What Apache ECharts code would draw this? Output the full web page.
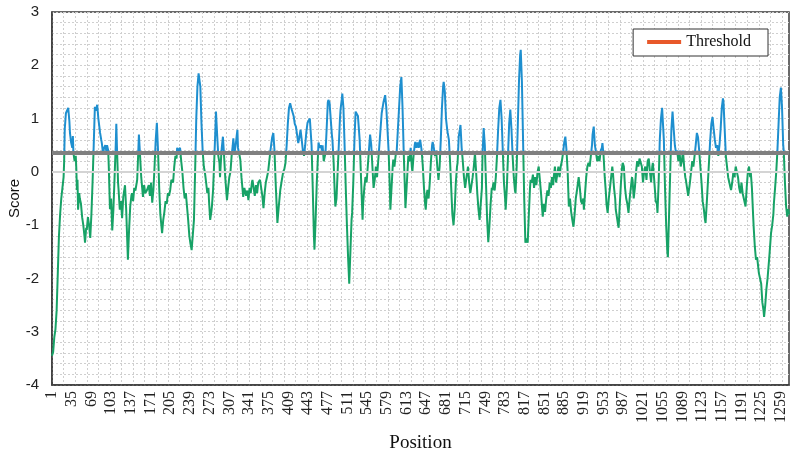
<!DOCTYPE html>
<html>
<head>
<meta charset="utf-8">
<script src="https://cdn.jsdelivr.net/npm/echarts@6/dist/echarts.min.js"></script>
<style>
html,body{margin:0;padding:0;background:#fff;}
#chart{width:793px;height:460px;}
</style>
</head>
<body>
<div id="chart"></div>
<script>
// ---- data ----
var positionCount = 1273;
var categories = [];
for (var c = 1; c <= positionCount; c++) categories.push(String(c));

var threshold = 0.35;

var positions = [1,3,5,7,9,11,13,15,17,19,21,22,23,25,27,29,31,32,34,36,37,38,40,42,43,44,45,46,48,49,51,53,55,57,58,60,61,63,65,67,69,71,73,75,77,79,81,84,86,87,89,91,93,95,96,98,99,101,103,105,107,109,111,112,113,115,116,118,120,122,124,127,129,132,134,136,138,139,141,143,145,148,150,151,153,155,158,160,162,165,168,170,172,174,176,178,180,182,184,186,188,191,193,195,197,199,201,203,205,207,210,212,214,216,217,219,222,224,226,228,230,232,234,236,238,240,242,244,246,248,250,252,254,255,257,259,261,263,265,267,269,271,272,274,276,277,279,281,283,284,286,288,290,291,293,294,296,298,300,302,303,305,307,309,311,313,314,316,318,320,321,322,324,326,328,330,331,333,334,336,338,340,342,344,346,347,349,351,353,355,357,360,362,364,366,368,370,372,374,376,378,381,383,385,387,389,390,392,395,397,400,402,404,406,408,410,412,414,416,418,420,422,424,426,428,430,432,434,436,438,440,442,444,446,447,449,451,453,454,456,458,460,461,463,465,467,468,470,472,473,475,477,478,480,482,484,485,487,489,490,492,494,496,498,499,501,502,504,506,508,510,512,514,516,518,519,521,523,525,527,529,530,532,534,536,537,538,540,542,544,546,548,550,552,554,556,558,560,562,564,566,568,570,571,573,576,578,580,582,584,585,587,589,590,592,594,596,598,600,602,604,606,608,610,611,613,615,616,618,620,622,623,625,627,628,630,632,634,636,637,639,641,643,645,646,648,649,651,653,655,657,658,660,662,664,666,668,670,672,674,676,677,679,681,683,684,686,688,690,692,694,696,698,700,701,703,705,706,708,710,712,714,715,717,719,721,723,725,727,729,731,733,735,737,739,741,743,744,746,748,750,752,754,756,758,760,761,763,765,767,769,771,773,775,777,779,781,783,784,786,788,790,792,794,796,798,800,801,803,805,807,809,810,812,814,816,818,820,822,824,826,827,829,831,833,835,837,839,841,843,845,847,848,850,852,854,856,858,860,862,864,866,867,869,871,873,875,877,879,881,883,885,887,889,891,893,895,897,899,901,903,905,907,908,910,912,914,916,918,919,921,923,925,927,929,931,933,934,936,938,940,942,944,946,948,950,951,953,955,957,958,960,962,964,966,968,969,971,973,974,976,978,979,981,983,985,986,988,990,992,994,996,998,1000,1002,1003,1005,1007,1009,1011,1013,1015,1017,1019,1021,1023,1025,1027,1029,1031,1033,1035,1037,1038,1040,1042,1043,1045,1046,1048,1050,1052,1054,1055,1057,1059,1061,1063,1064,1066,1068,1070,1072,1074,1076,1078,1080,1082,1084,1086,1088,1090,1092,1094,1095,1097,1099,1100,1102,1104,1106,1108,1110,1112,1114,1116,1118,1120,1122,1124,1126,1128,1129,1131,1133,1135,1137,1139,1141,1143,1145,1147,1149,1151,1153,1155,1157,1159,1160,1162,1164,1166,1168,1170,1172,1173,1175,1177,1179,1181,1183,1185,1187,1189,1191,1193,1195,1197,1198,1200,1202,1204,1206,1207,1209,1211,1212,1214,1216,1218,1219,1221,1223,1225,1227,1229,1230,1232,1234,1236,1237,1239,1241,1242,1244,1246,1247,1249,1251,1253,1255,1257,1259,1261,1263,1264,1266,1268,1270,1272,1273];

var scores = [-3.45,-3.38,-3.1,-2.95,-2.6,-1.9,-1.2,-0.8,-0.5,-0.3,-0.1,0.2,0.8,1.1,1.12,1.2,0.95,0.73,0.55,0.45,0.67,0.35,0.2,0.3,0.05,-0.34,-0.15,-0.71,-0.4,-0.5,-0.6,-0.85,-1.0,-1.2,-1.33,-1.05,-1.09,-0.85,-1.0,-1.24,-0.8,-0.2,0.5,1.22,1.15,1.26,1.0,0.73,0.6,0.54,0.35,0.45,0.5,0.38,0.5,0.4,0.1,-0.7,-0.5,-1.1,-0.7,-0.1,0.5,0.9,0.5,-0.2,-0.35,-0.71,-0.55,-0.87,-0.47,-0.25,-0.7,-1.65,-1.1,-0.65,-0.45,-0.4,-0.55,-0.3,-0.35,-0.15,0.4,0.7,0.3,-0.1,-0.47,-0.25,-0.4,-0.34,-0.25,-0.45,-0.2,-0.58,-0.34,0.1,0.6,0.92,0.4,-0.3,-0.8,-1.15,-0.9,-0.75,-0.55,-0.6,-0.4,-0.45,-0.34,-0.15,-0.2,0.1,0.3,0.25,0.45,0.4,0.45,0.2,0.0,-0.3,-0.5,-0.4,-0.65,-0.9,-1.2,-1.35,-1.47,-1.45,-0.9,0.0,1.0,1.6,1.85,1.88,1.6,0.9,0.4,0.1,-0.02,-0.2,-0.4,-0.3,-0.55,-0.9,-0.75,-0.65,-0.34,0.2,0.8,1.13,0.7,0.3,0.17,-0.1,0.3,0.45,0.66,0.3,-0.1,-0.4,-0.53,-0.3,-0.1,0.0,0.3,0.5,0.63,0.35,0.5,0.7,0.79,0.45,0.35,0.23,-0.1,-0.35,-0.47,-0.3,-0.28,-0.45,-0.35,-0.53,-0.3,-0.4,-0.2,-0.15,-0.3,-0.45,-0.25,-0.4,-0.2,-0.15,-0.3,-0.45,-0.68,-0.4,-0.2,-0.1,0.0,0.2,0.4,0.65,0.73,0.4,-0.2,-0.7,-0.96,-0.7,-0.34,-0.2,0.0,0.05,0.17,0.5,0.9,1.2,1.29,1.2,1.22,1.05,0.9,0.85,0.88,0.54,0.65,0.79,0.6,0.4,0.3,0.5,0.75,0.92,0.95,1.0,1.03,0.5,-0.3,-1.2,-1.46,-0.9,-0.2,0.3,0.55,0.45,0.5,0.4,0.5,0.2,0.3,0.35,0.8,1.3,1.35,1.3,1.0,0.7,0.6,0.2,-0.4,-0.65,-0.5,0.0,0.5,1.0,1.17,1.35,1.47,1.2,0.5,-0.3,-1.0,-1.6,-2.1,-1.5,-0.9,-0.77,-0.2,0.6,1.13,1.1,1.05,1.03,0.6,0.0,-0.6,-0.9,-0.6,-0.3,-0.1,-0.2,0.1,0.4,0.7,0.5,0.1,-0.3,-0.15,0.1,-0.1,0.2,0.5,0.8,1.1,1.13,1.3,1.44,1.2,0.8,0.38,-0.3,-0.71,-0.3,0.1,0.23,0.1,0.3,0.4,0.8,1.2,1.6,1.78,1.2,0.38,-0.3,-0.68,-0.3,0.1,0.3,0.2,0.45,0.1,0.0,0.3,0.5,0.56,0.45,0.55,0.45,0.6,0.56,0.4,0.1,-0.3,-0.6,-0.71,-0.4,-0.34,-0.5,-0.2,0.2,0.5,0.56,0.45,0.3,0.4,0.1,-0.15,0.1,0.6,1.2,1.6,1.69,1.5,1.0,0.8,0.73,0.6,0.2,-0.3,-0.8,-1.0,-0.7,-0.2,0.1,0.17,0.66,0.8,0.88,0.45,0.2,-0.1,-0.3,-0.3,-0.05,0.1,-0.2,-0.4,-0.25,-0.1,0.1,0.35,0.0,-0.4,-0.7,-0.9,-0.6,-0.3,0.3,0.82,0.5,-0.2,-0.9,-1.32,-1.0,-0.6,-0.3,-0.34,-0.2,-0.35,-0.1,0.3,0.8,1.2,1.35,1.0,0.4,-0.2,-0.5,-0.71,-0.3,0.3,0.9,1.17,0.8,0.3,-0.1,-0.35,-0.4,0.1,0.9,1.7,2.2,2.29,1.7,0.6,-0.5,-1.33,-1.25,-1.33,-0.8,-0.3,-0.15,-0.2,-0.05,-0.3,-0.1,-0.25,0.0,0.1,-0.15,-0.4,-0.7,-0.84,-0.6,-0.75,-0.5,-0.35,-0.45,-0.2,-0.3,-0.1,-0.25,-0.1,0.1,-0.2,-0.05,0.1,-0.1,0.1,0.2,0.35,0.55,0.66,0.4,0.0,-0.65,-0.5,-0.75,-0.9,-1.03,-0.8,-0.5,-0.35,-0.34,-0.1,-0.3,-0.55,-0.6,-0.5,-0.71,-0.4,-0.1,0.1,0.17,0.1,0.3,0.5,0.7,0.85,0.5,0.35,0.2,0.3,0.2,0.4,0.45,0.54,0.3,-0.1,-0.4,-0.6,-0.77,-0.5,-0.3,-0.1,0.1,0.0,-0.3,-0.5,-0.71,-0.85,-1.0,-1.05,-0.6,-0.2,0.1,0.17,0.1,-0.3,-0.5,-0.6,-0.77,-0.5,-0.3,-0.1,-0.15,-0.5,-0.3,0.0,0.2,0.1,0.25,0.23,0.1,-0.2,0.0,0.1,-0.15,0.2,0.25,0.0,-0.2,0.1,0.17,-0.1,-0.4,-0.55,-0.6,-0.77,-0.2,0.6,1.0,1.2,1.22,0.6,-0.3,-1.0,-1.5,-1.6,-0.8,0.0,0.8,1.13,0.8,0.5,0.35,0.4,0.2,0.4,0.1,0.2,0.4,0.1,-0.1,-0.15,-0.3,-0.45,-0.47,-0.2,0.0,0.2,0.1,0.3,0.5,0.73,0.65,0.4,0.1,-0.2,-0.55,-0.7,-0.9,-0.96,-0.6,-0.2,0.2,0.6,0.9,1.03,0.8,0.6,0.45,0.5,0.3,0.5,0.8,1.2,1.38,1.3,0.8,0.3,0.1,-0.1,-0.2,-0.3,-0.34,-0.2,0.0,-0.1,0.1,0.0,-0.1,-0.3,-0.4,-0.2,-0.4,-0.5,-0.6,-0.65,-0.3,0.0,0.1,-0.1,0.0,-0.3,-0.8,-1.03,-1.4,-1.65,-1.6,-1.7,-1.9,-1.9,-2.1,-2.45,-2.6,-2.72,-2.5,-2.2,-2.0,-1.97,-1.6,-1.3,-1.15,-1.0,-0.8,-0.58,-0.3,0.0,0.4,0.9,1.4,1.58,1.2,0.5,0.38,-0.2,-0.65,-0.84,-0.7,-0.8];

var yTicks = {min: -4, max: 3, step: 1};

// ---- chart ----
var seriesData = [];
var n = Math.min(positions.length, scores.length);
for (var i = 0; i < n; i++) seriesData.push([positions[i] - 1, scores[i]]);

var chart = echarts.init(document.getElementById('chart'), null, {renderer: 'canvas'});
var gridDot = {color: '#cfcfcf', type: [2, 2], width: 1};

chart.setOption({
  animation: false,
  backgroundColor: '#ffffff',
  grid: {left: 52, right: 4, top: 12, bottom: 75, show: true, borderColor: '#3a3a3a', borderWidth: 1.5, containLabel: false, outerBoundsMode: 'none'},
  legend: {
    show: true,
    data: [{name: 'Threshold', icon: 'rect'}],
    right: 25, top: 29,
    itemWidth: 34, itemHeight: 4, itemGap: 4,
    padding: [5, 17, 6, 14],
    borderColor: '#333', borderWidth: 1, backgroundColor: '#fff',
    textStyle: {fontFamily: 'Liberation Serif', fontSize: 16, color: '#111'}
  },
  visualMap: {
    show: false, type: 'piecewise', seriesIndex: 0, dimension: 1,
    pieces: [{min: threshold, max: yTicks.max, color: '#1e8fcf'}, {min: yTicks.min, max: threshold, color: '#17a266'}]
  },
  xAxis: {
    type: 'category', data: categories, boundaryGap: false,
    name: 'Position', nameLocation: 'middle', nameGap: 49, nameMoveOverlap: false,
    nameTextStyle: {fontFamily: 'Liberation Serif', fontSize: 19, color: '#111'},
    axisLine: {onZero: false, lineStyle: {color: '#3a3a3a', width: 1.5}},
    axisTick: {show: false},
    axisLabel: {interval: 33, rotate: 90, fontFamily: 'Liberation Serif', fontSize: 16, color: '#222', margin: 6},
    splitLine: {show: true, interval: 19, lineStyle: gridDot}
  },
  yAxis: {
    type: 'value', min: yTicks.min, max: yTicks.max, interval: yTicks.step,
    name: 'Score', nameLocation: 'middle', nameGap: 30, nameMoveOverlap: false,
    nameTextStyle: {fontFamily: 'Liberation Sans', fontSize: 15, color: '#111'},
    axisLine: {show: true, lineStyle: {color: '#3a3a3a', width: 1.5}},
    axisTick: {show: false},
    axisLabel: {fontFamily: 'Liberation Sans', fontSize: 15, color: '#222', margin: 13},
    splitLine: {show: true, lineStyle: gridDot},
    minorTick: {show: false, splitNumber: 5},
    minorSplitLine: {show: true, lineStyle: gridDot}
  },
  series: [
    {
      name: 'Score', type: 'line', data: seriesData, showSymbol: false, symbol: 'none',
      lineStyle: {width: 2}, z: 3
    },
    {
      name: 'Zero', type: 'line', data: [], symbol: 'none', silent: true, z: 1,
      lineStyle: {color: '#d4d4d4'},
      markLine: {
        silent: true, symbol: 'none', animation: false,
        label: {show: false},
        lineStyle: {color: '#d4d4d4', width: 2, type: 'solid'},
        data: [{yAxis: 0}]
      }
    },
    {
      name: 'Threshold', type: 'line', data: [], symbol: 'none',
      itemStyle: {color: '#e8582a'}, lineStyle: {color: '#e8582a', width: 3},
      z: 5,
      markLine: {
        silent: true, symbol: 'none', animation: false,
        label: {show: false},
        lineStyle: {color: '#808080', width: 4, type: 'solid'},
        data: [{yAxis: threshold}]
      }
    }
  ]
});
</script>
</body>
</html>
